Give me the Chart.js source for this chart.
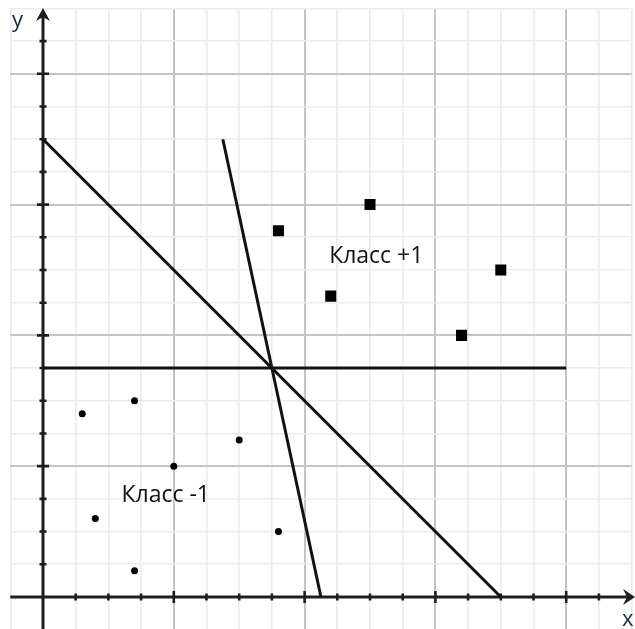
<!DOCTYPE html>
<html>
<head>
<meta charset="utf-8">
<script src="https://cdn.jsdelivr.net/npm/chart.js@4/dist/chart.umd.min.js"></script>
<style>
  html, body { margin:0; padding:0; background:#fff; }
  #wrap { width:635px; height:629px; }
</style>
</head>
<body>
<div id="wrap"><canvas id="svmChart" width="635" height="629"></canvas></div>
<script>

/* classes */

const plusX = [7.2, 10, 8.8, 14, 12.8];
const plusY = [11.2, 12, 9.2, 10, 8];

const minusX = [1.2, 2.8, 6, 4, 1.6, 7.2, 2.8];
const minusY = [5.6, 6, 4.8, 4, 2.4, 2, 0.8];

/* separating lines: [x1, y1, x2, y2] */

const lineDiag  = [0, 14, 14, 0];
const lineHoriz = [0, 7, 16, 7];
const lineSteep = [5.5, 14, 8.5, 0];

const classNames = ['Класс +1', 'Класс -1'];
const classAnchors = [[8.75, 10.2], [2.4, 2.9]];

const toPoints = (xs, ys) => xs.map((x, i) => ({x:x, y:ys[i]}));
const segment = l => [{x:l[0], y:l[1]}, {x:l[2], y:l[3]}];

function integerTicks(scale){
  const t = [];
  for(let v = Math.ceil(scale.min); v <= Math.floor(scale.max); v++){
    t.push({value:v});
  }
  scale.ticks = t;
}

// scales take no room of their own, the chart area fills the padding box
function noRoom(scale){
  if(scale.isHorizontal()) scale.height = 0;
  else scale.width = 0;
  scale.paddingLeft = scale.paddingRight = 0;
  scale.paddingTop = scale.paddingBottom = 0;
}

const gridOpts = {
  drawTicks:false,
  color: c => c.tick.value % 4 === 0 ? '#c4c4c4' : '#ebebeb',
  lineWidth: c => c.tick.value % 4 === 0 ? 2 : 1.6
};

/* axes with arrows and tick marks */

const axesPlugin = {
  id:'axes',
  beforeDatasetsDraw(chart){
    const {ctx, scales:{x, y}} = chart;
    const ox = x.getPixelForValue(0);
    const oy = y.getPixelForValue(0);
    const right = chart.width - 1;
    const top = 8;

    ctx.save();
    ctx.strokeStyle = '#1e1e1e';
    ctx.fillStyle = '#1e1e1e';
    ctx.lineWidth = 3;

    ctx.beginPath();
    ctx.moveTo(x.getPixelForValue(-1), oy);
    ctx.lineTo(right - 6, oy);
    ctx.moveTo(ox, chart.height);
    ctx.lineTo(ox, top + 6);
    ctx.stroke();

    // tick marks
    ctx.lineWidth = 2.6;
    ctx.beginPath();
    for(let v = 1; v <= 17; v++){
      const h = v % 4 === 0 ? 6 : 3.5;
      const px = x.getPixelForValue(v);
      ctx.moveTo(px, oy - h);
      ctx.lineTo(px, oy + h);
      const py = y.getPixelForValue(v);
      ctx.moveTo(ox - h, py);
      ctx.lineTo(ox + h, py);
    }
    ctx.stroke();

    // arrow heads
    ctx.beginPath();
    ctx.moveTo(right + 1, oy);
    ctx.lineTo(right - 11, oy - 8);
    ctx.lineTo(right - 7, oy);
    ctx.lineTo(right - 11, oy + 8);
    ctx.closePath();
    ctx.fill();

    ctx.beginPath();
    ctx.moveTo(ox, top);
    ctx.lineTo(ox - 7, top + 13);
    ctx.lineTo(ox, top + 9);
    ctx.lineTo(ox + 7, top + 13);
    ctx.closePath();
    ctx.fill();

    ctx.restore();
  }
};

/* class captions and axis names */

const textPlugin = {
  id:'captions',
  afterDatasetsDraw(chart){
    const {ctx, scales:{x, y}} = chart;
    ctx.save();
    ctx.fillStyle = '#111';
    ctx.textBaseline = 'alphabetic';
    ctx.textAlign = 'left';
    ctx.font = '23px "Open Sans"';
    classNames.forEach((name, i) => {
      ctx.fillText(name,
        x.getPixelForValue(classAnchors[i][0]),
        y.getPixelForValue(classAnchors[i][1]));
    });
    ctx.font = '22px "Open Sans"';
    ctx.fillStyle = '#1b2a44';
    ctx.fillText('y', 12, 27);
    ctx.fillText('x', 622, 626);
    ctx.restore();
  }
};

const lineStyle = {
  showLine:true,
  borderColor:'#111',
  borderWidth:3,
  pointRadius:0,
  fill:false
};

new Chart(document.getElementById('svmChart'), {

  type:'scatter',

  data:{
    datasets:[
      Object.assign({data:segment(lineDiag)}, lineStyle),
      Object.assign({data:segment(lineHoriz)}, lineStyle),
      Object.assign({data:segment(lineSteep)}, lineStyle),
      {
        label:classNames[0],
        data:toPoints(plusX, plusY),
        pointStyle:'rect',
        pointRadius:7.8,
        backgroundColor:'#000',
        borderWidth:0
      },
      {
        label:classNames[1],
        data:toPoints(minusX, minusY),
        pointStyle:'circle',
        pointRadius:3.5,
        backgroundColor:'#000',
        borderWidth:0
      }
    ]
  },

  options:{
    responsive:false,
    animation:false,
    devicePixelRatio:1,
    layout:{
      autoPadding:false,
      padding:{left:10.3, right:3.4, top:8.4, bottom:0}
    },
    plugins:{
      legend:{display:false},
      tooltip:{enabled:false}
    },
    scales:{
      x:{
        type:'linear',
        min:-1,
        max:18,
        afterBuildTicks:integerTicks,
        afterFit:noRoom,
        ticks:{display:false},
        border:{display:false},
        grid:gridOpts
      },
      y:{
        type:'linear',
        min:-0.98,
        max:18,
        afterBuildTicks:integerTicks,
        afterFit:noRoom,
        ticks:{display:false},
        border:{display:false},
        grid:gridOpts
      }
    }
  },

  plugins:[axesPlugin, textPlugin]

});

</script>
</body>
</html>
